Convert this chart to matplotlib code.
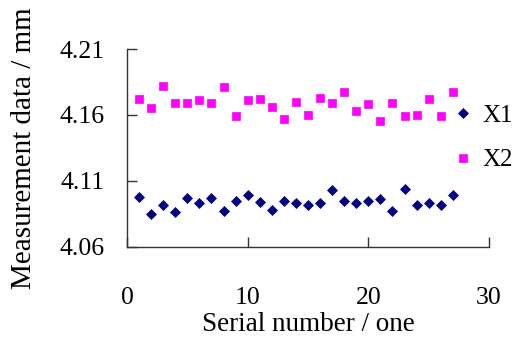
import numpy as np
import matplotlib.pyplot as plt

plt.rcParams['font.family'] = ['Liberation Serif', 'DejaVu Serif']

serial = np.arange(1, 28)
x1 = [4.098, 4.085, 4.092, 4.086, 4.097, 4.093, 4.097, 4.087, 4.095, 4.099,
      4.094, 4.088, 4.095, 4.093, 4.092, 4.093, 4.103, 4.095, 4.093, 4.095,
      4.096, 4.087, 4.104, 4.092, 4.093, 4.092, 4.099]
x2 = [4.172, 4.165, 4.182, 4.169, 4.169, 4.171, 4.169, 4.181, 4.159, 4.171,
      4.172, 4.166, 4.157, 4.170, 4.160, 4.173, 4.169, 4.177, 4.163, 4.168,
      4.155, 4.169, 4.159, 4.160, 4.172, 4.159, 4.177]

fig = plt.figure(figsize=(5.15, 3.42), dpi=100)
ax = fig.add_axes([0.2466, 0.2787, 0.703, 0.578])

ax.plot(serial, x1, 'D', color='#000080', markersize=5, mew=0.5, label='X1')
ax.plot(serial, x2, 's', color='#FF00FF', markersize=6, mew=0.5, label='X2')

ax.set_xlim(0, 30)
ax.set_ylim(4.06, 4.21)
ax.set_xticks([0, 10, 20, 30])
ax.set_yticks([4.06, 4.11, 4.16, 4.21])
ax.set_yticklabels(['4.06', '4.11', '4.16', '4.21'])

for s in ['top', 'right']:
    ax.spines[s].set_visible(False)
for s in ['left', 'bottom']:
    ax.spines[s].set_color('#333333')
    ax.spines[s].set_linewidth(1.0)

ax.tick_params(axis='both', direction='in', length=7, width=1.0,
               color='#333333', labelsize=18.5)
ax.tick_params(axis='x', pad=29)
ax.tick_params(axis='y', pad=16)

ax.set_xlabel('Serial number / one', fontsize=19.5, labelpad=2)
ax.set_ylabel('Measurement data / mm', fontsize=21, labelpad=16)

ax.legend(loc='center left', bbox_to_anchor=(0.867, 0.55), frameon=False,
          fontsize=18, handletextpad=0.25, labelspacing=0.88,
          handlelength=1.0, borderaxespad=0)

fig.savefig('out.png', dpi=100)
